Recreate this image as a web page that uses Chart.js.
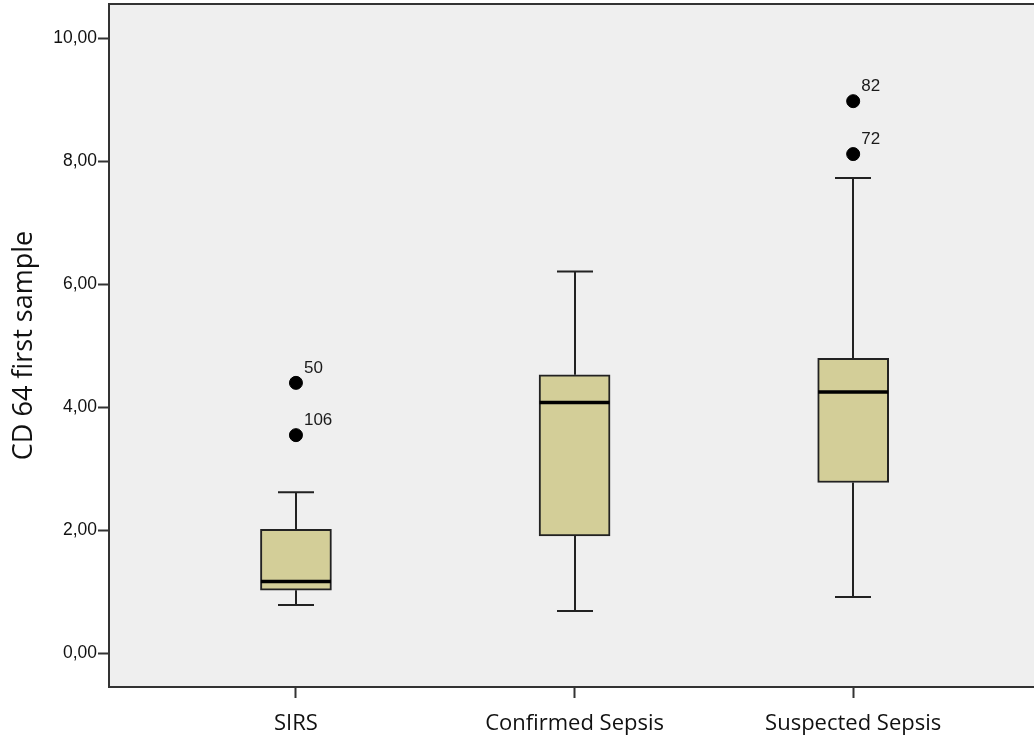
<!DOCTYPE html>
<html>
<head>
<meta charset="utf-8">
<script src="https://cdn.jsdelivr.net/npm/chart.js@4.4.1/dist/chart.umd.min.js"></script>
<style>
    body { margin: 0; background: #ffffff; }
</style>
</head>
<body>
<canvas id="graficoCd64" width="1034" height="742"></canvas>
<script>
// dados
var categorias = ['SIRS', 'Confirmed Sepsis', 'Suspected Sepsis'];
var bigodeMin = [0.79, 0.69, 0.92];
var quartil1 = [1.03, 1.91, 2.78];
var mediana = [1.17, 4.08, 4.25];
var quartil3 = [2.02, 4.53, 4.80];
var bigodeMax = [2.62, 6.21, 7.73];
var outlierGrupo = [0, 0, 2, 2];
var outlierValor = [4.40, 3.55, 8.98, 8.12];
var outlierRotulo = ['50', '106', '82', '72'];
var ticksY = [0, 2, 4, 6, 8, 10];

function PegarCaixas() {
    return categorias.map(function (c, i) {
        return { x: i, y: [quartil1[i], quartil3[i]] };
    });
}

function PegarOutliers() {
    return outlierValor.map(function (v, i) {
        return { x: outlierGrupo[i], y: v };
    });
}

var pluginCaixa = {
    id: 'pluginCaixa',
    beforeDraw: function (chart) {
        var ctx = chart.ctx;
        var a = chart.chartArea;
        ctx.save();
        ctx.fillStyle = '#efefef';
        ctx.fillRect(a.left, a.top, a.right - a.left, a.bottom - a.top);
        ctx.restore();
    },
    beforeDatasetsDraw: function (chart) {
        var ctx = chart.ctx;
        var x = chart.scales.x;
        var y = chart.scales.y;
        ctx.save();
        ctx.strokeStyle = '#222222';
        ctx.lineWidth = 2;
        for (var i = 0; i < categorias.length; i++) {
            var px = Math.round(x.getPixelForValue(i));
            ctx.beginPath();
            ctx.moveTo(px, y.getPixelForValue(quartil3[i]));
            ctx.lineTo(px, y.getPixelForValue(bigodeMax[i]));
            ctx.moveTo(px, y.getPixelForValue(quartil1[i]));
            ctx.lineTo(px, y.getPixelForValue(bigodeMin[i]));
            ctx.moveTo(px - 18, y.getPixelForValue(bigodeMax[i]));
            ctx.lineTo(px + 18, y.getPixelForValue(bigodeMax[i]));
            ctx.moveTo(px - 18, y.getPixelForValue(bigodeMin[i]));
            ctx.lineTo(px + 18, y.getPixelForValue(bigodeMin[i]));
            ctx.stroke();
        }
        ctx.restore();
    },
    afterDatasetsDraw: function (chart) {
        var ctx = chart.ctx;
        var a = chart.chartArea;
        var x = chart.scales.x;
        var y = chart.scales.y;
        ctx.save();
        // mediana
        ctx.strokeStyle = '#000000';
        ctx.lineWidth = 3.5;
        for (var i = 0; i < categorias.length; i++) {
            var px = x.getPixelForValue(i);
            var py = y.getPixelForValue(mediana[i]);
            ctx.beginPath();
            ctx.moveTo(px - 35, py);
            ctx.lineTo(px + 35, py);
            ctx.stroke();
        }
        // rotulos dos outliers
        ctx.fillStyle = '#1a1a1a';
        ctx.font = '17px "Liberation Sans", Arial, sans-serif';
        ctx.textAlign = 'left';
        ctx.textBaseline = 'alphabetic';
        for (var j = 0; j < outlierValor.length; j++) {
            var ox = x.getPixelForValue(outlierGrupo[j]);
            var oy = y.getPixelForValue(outlierValor[j]);
            ctx.fillText(outlierRotulo[j], ox + 8, oy - 10);
        }
        // borda de cima
        ctx.strokeStyle = '#333333';
        ctx.lineWidth = 2;
        ctx.beginPath();
        ctx.moveTo(a.left, a.top);
        ctx.lineTo(a.right, a.top);
        ctx.stroke();
        ctx.restore();
    }
};

var ctx = document.getElementById('graficoCd64').getContext('2d');

var grafico = new Chart(ctx, {
    type: 'bar',
    data: {
        datasets: [
            {
                label: 'Caixa',
                data: PegarCaixas(),
                backgroundColor: '#d3ce98',
                borderColor: '#222222',
                borderWidth: 2,
                borderSkipped: false,
                barThickness: 71,
                order: 2
            },
            {
                type: 'scatter',
                label: 'Outliers',
                data: PegarOutliers(),
                backgroundColor: '#000000',
                borderColor: '#000000',
                pointRadius: 6.5,
                order: 1
            }
        ]
    },
    options: {
        responsive: false,
        animation: false,
        devicePixelRatio: 1,
        layout: { autoPadding: false, padding: { top: 4, right: 0, left: 0, bottom: 0 } },
        plugins: {
            legend: { display: false },
            tooltip: { enabled: false }
        },
        scales: {
            x: {
                type: 'linear',
                offset: false,
                min: -0.671,
                max: 2.649,
                afterBuildTicks: function (scale) {
                    scale.ticks = [0, 1, 2].map(function (v) { return { value: v }; });
                },
                afterFit: function (scale) {
                    scale.height = 55;
                    scale.paddingLeft = 0;
                    scale.paddingRight = 0;
                },
                ticks: {
                    autoSkip: false,
                    maxRotation: 0,
                    padding: 13,
                    color: '#111111',
                    font: { family: '"Open Sans"', size: 22 },
                    callback: function (v) { return categorias[v]; }
                },
                grid: {
                    offset: false,
                    drawOnChartArea: false,
                    tickLength: 11,
                    tickWidth: 2,
                    tickColor: '#333333'
                },
                border: { display: true, color: '#333333', width: 2 }
            },
            y: {
                min: -0.545,
                max: 10.56,
                afterBuildTicks: function (scale) {
                    scale.ticks = ticksY.map(function (v) { return { value: v }; });
                },
                afterFit: function (scale) {
                    scale.width = 109;
                    scale.paddingTop = 0;
                    scale.paddingBottom = 0;
                },
                ticks: {
                    padding: 1,
                    color: '#111111',
                    font: { family: '"Liberation Sans", Arial', size: 17.5 },
                    callback: function (v) { return v.toFixed(2).replace('.', ','); }
                },
                grid: {
                    drawOnChartArea: false,
                    tickLength: 11,
                    tickWidth: 2,
                    tickColor: '#333333'
                },
                border: { display: true, color: '#333333', width: 2 },
                title: {
                    display: true,
                    text: 'CD 64 first sample',
                    color: '#111111',
                    font: { family: '"Open Sans"', size: 27 },
                    padding: { top: 8, bottom: 0 }
                }
            }
        }
    },
    plugins: [pluginCaixa]
});
</script>
</body>
</html>
